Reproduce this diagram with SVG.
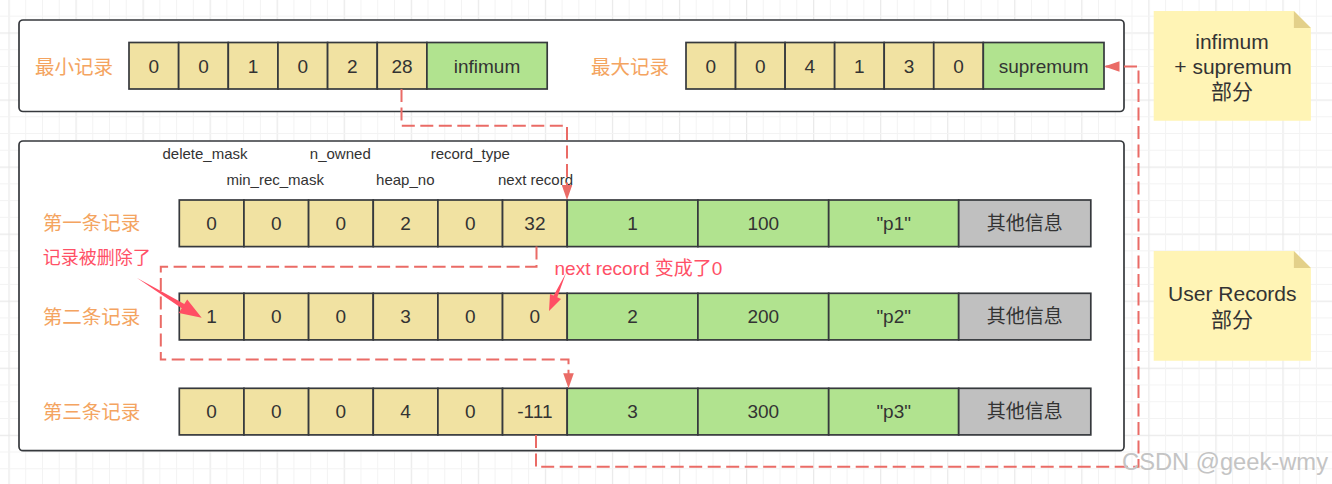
<svg xmlns="http://www.w3.org/2000/svg" width="1332" height="484" viewBox="0 0 1332 484">
<style>
text{font-family:"Liberation Sans","Noto Sans CJK SC",sans-serif;fill:#333;text-anchor:middle;dominant-baseline:central}
.box{fill:#fff;stroke:#36393d;stroke-width:1.7}
.y{fill:#f1e2a2;stroke:#36393d;stroke-width:1.7}
.g{fill:#b1e38f;stroke:#36393d;stroke-width:1.7}
.k{fill:#c0c0c0;stroke:#36393d;stroke-width:1.7}
.c{font-size:19px}
.lab{font-size:19.5px;fill:#f4a460}
.sm{font-size:15px}
.nt{font-size:21px}
.red{font-size:18px;fill:#ff5066}
.con{fill:none;stroke:#ea6b66;stroke-width:2;stroke-dasharray:13 5.5}
.note{fill:#fff4b5}
.fold{fill:#e3d08a}
.call{fill:#ff4f64}
</style>
<defs>
<pattern id="grid" patternUnits="userSpaceOnUse" x="8.45" y="32.45" width="67.05" height="67.05">
<rect x="0" y="0" width="1.2" height="67.05" fill="#e9e9e9"/>
<rect x="0" y="0" width="67.05" height="1.2" fill="#e9e9e9"/>
<rect x="16.76" y="0" width="1" height="67.05" fill="#f3f3f3"/>
<rect x="33.52" y="0" width="1" height="67.05" fill="#f3f3f3"/>
<rect x="50.29" y="0" width="1" height="67.05" fill="#f3f3f3"/>
<rect x="0" y="16.76" width="67.05" height="1" fill="#f3f3f3"/>
<rect x="0" y="33.52" width="67.05" height="1" fill="#f3f3f3"/>
<rect x="0" y="50.29" width="67.05" height="1" fill="#f3f3f3"/>
</pattern>
<marker id="ah" viewBox="0 0 15 10.6" refX="15" refY="5.3" markerWidth="15" markerHeight="10.6" markerUnits="userSpaceOnUse" orient="auto">
<path d="M0,0 L15,5.3 L0,10.6 Z" fill="#ea6b66"/>
</marker>
</defs>
<rect width="1332" height="484" fill="#fff"/>
<rect width="1332" height="484" fill="url(#grid)"/>

<g id="page-top">
<rect class="box" x="19" y="20" width="1105" height="91.5" rx="4"/>
</g>
<g id="page-bottom">
<rect class="box" x="19" y="141" width="1105" height="309.7" rx="4"/>
</g>

<g id="min-record">
<text class="lab" x="74" y="66.5">最小记录</text>
<rect class="y" x="129" y="42.5" width="49.65" height="46.5"/>
<rect class="y" x="178.65" y="42.5" width="49.65" height="46.5"/>
<rect class="y" x="228.3" y="42.5" width="49.65" height="46.5"/>
<rect class="y" x="277.95" y="42.5" width="49.65" height="46.5"/>
<rect class="y" x="327.6" y="42.5" width="49.65" height="46.5"/>
<rect class="y" x="377.25" y="42.5" width="49.65" height="46.5"/>
<rect class="g" x="426.9" y="42.5" width="120.3" height="46.5"/>
<text class="c" x="153.8" y="66">0</text>
<text class="c" x="203.5" y="66">0</text>
<text class="c" x="253.1" y="66">1</text>
<text class="c" x="302.8" y="66">0</text>
<text class="c" x="352.4" y="66">2</text>
<text class="c" x="402.1" y="66">28</text>
<text class="c" x="487" y="66">infimum</text>
</g>

<g id="max-record">
<text class="lab" x="630" y="66.5">最大记录</text>
<rect class="y" x="686" y="42.5" width="49.55" height="46.5"/>
<rect class="y" x="735.55" y="42.5" width="49.55" height="46.5"/>
<rect class="y" x="785.1" y="42.5" width="49.55" height="46.5"/>
<rect class="y" x="834.65" y="42.5" width="49.55" height="46.5"/>
<rect class="y" x="884.2" y="42.5" width="49.55" height="46.5"/>
<rect class="y" x="933.75" y="42.5" width="49.55" height="46.5"/>
<rect class="g" x="983.3" y="42.5" width="120.7" height="46.5"/>
<text class="c" x="710.8" y="66">0</text>
<text class="c" x="760.3" y="66">0</text>
<text class="c" x="809.9" y="66">4</text>
<text class="c" x="859.4" y="66">1</text>
<text class="c" x="909" y="66">3</text>
<text class="c" x="958.5" y="66">0</text>
<text class="c" x="1043.6" y="66">supremum</text>
</g>

<g id="field-labels">
<text class="sm" x="205" y="153">delete_mask</text>
<text class="sm" x="340.3" y="153">n_owned</text>
<text class="sm" x="470.3" y="153">record_type</text>
<text class="sm" x="275.2" y="179">min_rec_mask</text>
<text class="sm" x="405.3" y="179">heap_no</text>
<text class="sm" x="535.5" y="179">next record</text>
</g>

<g id="record1">
<text class="lab" x="91.4" y="223.3">第一条记录</text>
<rect class="y" x="179.3" y="200" width="64.65" height="46.6"/>
<rect class="y" x="243.95" y="200" width="64.65" height="46.6"/>
<rect class="y" x="308.6" y="200" width="64.65" height="46.6"/>
<rect class="y" x="373.25" y="200" width="64.65" height="46.6"/>
<rect class="y" x="437.9" y="200" width="64.65" height="46.6"/>
<rect class="y" x="502.55" y="200" width="64.65" height="46.6"/>
<rect class="g" x="567.2" y="200" width="130.7" height="46.6"/>
<rect class="g" x="697.9" y="200" width="130.8" height="46.6"/>
<rect class="g" x="828.7" y="200" width="130" height="46.6"/>
<rect class="k" x="958.7" y="200" width="132.1" height="46.6"/>
<text class="c" x="211.6" y="223.3">0</text>
<text class="c" x="276.3" y="223.3">0</text>
<text class="c" x="340.9" y="223.3">0</text>
<text class="c" x="405.6" y="223.3">2</text>
<text class="c" x="470.2" y="223.3">0</text>
<text class="c" x="534.9" y="223.3">32</text>
<text class="c" x="632.5" y="223.3">1</text>
<text class="c" x="763.3" y="223.3">100</text>
<text class="c" x="893.7" y="223.3">&quot;p1&quot;</text>
<text class="c" x="1024.7" y="223.3">其他信息</text>
</g>

<g id="record2">
<text class="lab" x="91.4" y="316.6">第二条记录</text>
<rect class="y" x="179.3" y="293.3" width="64.65" height="46.6"/>
<rect class="y" x="243.95" y="293.3" width="64.65" height="46.6"/>
<rect class="y" x="308.6" y="293.3" width="64.65" height="46.6"/>
<rect class="y" x="373.25" y="293.3" width="64.65" height="46.6"/>
<rect class="y" x="437.9" y="293.3" width="64.65" height="46.6"/>
<rect class="y" x="502.55" y="293.3" width="64.65" height="46.6"/>
<rect class="g" x="567.2" y="293.3" width="130.7" height="46.6"/>
<rect class="g" x="697.9" y="293.3" width="130.8" height="46.6"/>
<rect class="g" x="828.7" y="293.3" width="130" height="46.6"/>
<rect class="k" x="958.7" y="293.3" width="132.1" height="46.6"/>
<text class="c" x="211.6" y="316.6">1</text>
<text class="c" x="276.3" y="316.6">0</text>
<text class="c" x="340.9" y="316.6">0</text>
<text class="c" x="405.6" y="316.6">3</text>
<text class="c" x="470.2" y="316.6">0</text>
<text class="c" x="534.9" y="316.6">0</text>
<text class="c" x="632.5" y="316.6">2</text>
<text class="c" x="763.3" y="316.6">200</text>
<text class="c" x="893.7" y="316.6">&quot;p2&quot;</text>
<text class="c" x="1024.7" y="316.6">其他信息</text>
</g>

<g id="record3">
<text class="lab" x="91.4" y="411.6">第三条记录</text>
<rect class="y" x="179.3" y="388.3" width="64.65" height="46.6"/>
<rect class="y" x="243.95" y="388.3" width="64.65" height="46.6"/>
<rect class="y" x="308.6" y="388.3" width="64.65" height="46.6"/>
<rect class="y" x="373.25" y="388.3" width="64.65" height="46.6"/>
<rect class="y" x="437.9" y="388.3" width="64.65" height="46.6"/>
<rect class="y" x="502.55" y="388.3" width="64.65" height="46.6"/>
<rect class="g" x="567.2" y="388.3" width="130.7" height="46.6"/>
<rect class="g" x="697.9" y="388.3" width="130.8" height="46.6"/>
<rect class="g" x="828.7" y="388.3" width="130" height="46.6"/>
<rect class="k" x="958.7" y="388.3" width="132.1" height="46.6"/>
<text class="c" x="211.6" y="411.6">0</text>
<text class="c" x="276.3" y="411.6">0</text>
<text class="c" x="340.9" y="411.6">0</text>
<text class="c" x="405.6" y="411.6">4</text>
<text class="c" x="470.2" y="411.6">0</text>
<text class="c" x="534.9" y="411.6">-111</text>
<text class="c" x="632.5" y="411.6">3</text>
<text class="c" x="763.3" y="411.6">300</text>
<text class="c" x="893.7" y="411.6">&quot;p3&quot;</text>
<text class="c" x="1024.7" y="411.6">其他信息</text>
</g>

<g id="note-infimum-supremum">
<path class="note" d="M1153.7,11 H1293.9 L1310.9,28 V120.7 H1153.7 Z"/>
<path class="fold" d="M1293.9,11 L1310.9,28 H1293.9 Z"/>
<text class="nt" x="1232" y="41.7">infimum</text>
<text class="nt" x="1233" y="66.7">+ supremum</text>
<text class="nt" x="1232" y="91.7">部分</text>
</g>

<g id="note-user-records">
<path class="note" d="M1153.7,251 H1293.9 L1310.9,268 V360.7 H1153.7 Z"/>
<path class="fold" d="M1293.9,251 L1310.9,268 H1293.9 Z"/>
<text class="nt" x="1232.3" y="293.3">User Records</text>
<text class="nt" x="1232" y="319">部分</text>
</g>

<g id="connectors">
<path class="con" d="M401.5,89 V125.7 H567 V200" marker-end="url(#ah)"/>
<path class="con" d="M536.5,246.6 V266.7 H160.8 V359.5 H568.5 V388.3" marker-end="url(#ah)"/>
<path class="con" d="M536,434.9 V466.7 H1138.5 V66.5 H1104.5" marker-end="url(#ah)"/>
</g>

<g id="callout-deleted">
<text class="red" x="96.7" y="258.3">记录被删除了</text>
<polygon class="call" points="136.7,277.7 184.3,304.1 187.2,299.4 201.7,317.7 178.8,313 181.7,308.3"/>
</g>

<g id="callout-next-record">
<text class="red" x="554.5" y="268.3" style="text-anchor:start;font-size:19px">next record 变成了0</text>
<polygon class="call" points="566,273 557.3,297.2 561,298.9 549,311 550,293.9 553.7,295.6"/>
</g>

<text x="1122" y="462" style="text-anchor:start;font-size:23px;fill:#c4c4c4" textLength="206" lengthAdjust="spacingAndGlyphs">CSDN @geek-wmy</text>
</svg>
